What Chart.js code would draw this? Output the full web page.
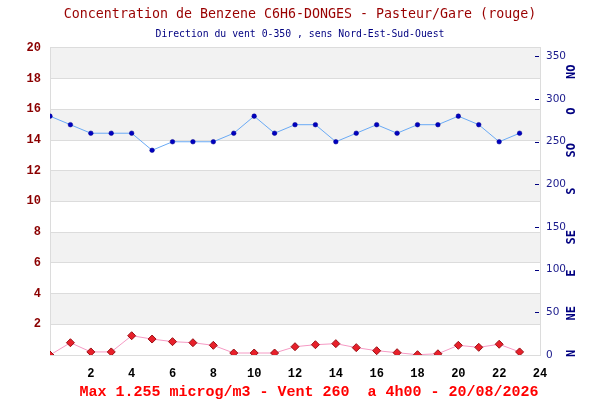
<!DOCTYPE html>
<html>
<head>
<meta charset="utf-8">
<script src="https://cdn.jsdelivr.net/npm/chart.js@4/dist/chart.umd.min.js"></script>
<style>
  html, body { margin: 0; padding: 0; background: #fff; }
  #box { width: 600px; height: 400px; }
</style>
</head>
<body>
<div id="box"><canvas id="chart"></canvas></div>
<script>
const hours = [0, 1, 2, 3, 4, 5, 6, 7, 8, 9, 10, 11, 12, 13, 14, 15, 16, 17, 18, 19, 20, 21, 22, 23];
// benzene, microg/m3
const benzene = [0.0, 0.8, 0.2, 0.2, 1.255, 1.04, 0.87, 0.8, 0.63, 0.13, 0.13, 0.13, 0.54, 0.67, 0.74, 0.48, 0.28, 0.15, 0.02, 0.08, 0.63, 0.5, 0.7, 0.2];
// wind direction, degrees
const wind = [280, 270, 260, 260, 260, 240, 250, 250, 250, 260, 280, 260, 270, 270, 250, 260, 270, 260, 270, 270, 280, 270, 250, 260];
const windTicks = [0, 50, 100, 150, 200, 250, 300, 350];
const dirLabels = ["N", "NE", "E", "SE", "S", "SO", "O", "NO"];
const dirAt = [2, 49, 96, 138, 192, 240, 286, 332];
const bandsFrom = [2, 6, 10, 14, 18];

const titleText = "Concentration de Benzene C6H6-DONGES - Pasteur/Gare (rouge)";
const subText = "Direction du vent 0-350 , sens Nord-Est-Sud-Ouest";
const footText = "Max 1.255 microg/m3 - Vent 260  a 4h00 - 20/08/2026";

const mono = "'Liberation Mono', 'DejaVu Sans Mono', monospace";
const dvMono = "'DejaVu Sans Mono', monospace";

const toPoints = (vals) => hours.map((h, i) => ({ x: h, y: vals[i] }));

// grey bands behind the grid
const bands = {
  id: "bands",
  beforeDraw: (chart) => {
    const { ctx, chartArea, scales } = chart;
    ctx.save();
    ctx.fillStyle = "#f2f2f2";
    bandsFrom.forEach((b) => {
      const y1 = scales.y.getPixelForValue(b + 2);
      const y2 = scales.y.getPixelForValue(b);
      ctx.fillRect(chartArea.left, y1, chartArea.right - chartArea.left, y2 - y1);
    });
    ctx.restore();
  },
};

// wind rose letters, small inner ticks on the right axis, red footer line
const extras = {
  id: "extras",
  afterDraw: (chart) => {
    const { ctx, chartArea, scales } = chart;
    ctx.save();
    ctx.strokeStyle = "#000080";
    ctx.lineWidth = 1;
    windTicks.forEach((v) => {
      if (v === 0) return;
      const y = Math.round(scales.y1.getPixelForValue(v)) + 0.5;
      ctx.beginPath();
      ctx.moveTo(chartArea.right - 5, y);
      ctx.lineTo(chartArea.right - 1, y);
      ctx.stroke();
    });
    ctx.fillStyle = "#000080";
    ctx.font = "bold 12px 'DejaVu Sans Mono', monospace";
    ctx.textAlign = "center";
    ctx.textBaseline = "middle";
    dirLabels.forEach((lab, i) => {
      ctx.save();
      ctx.translate(572, scales.y1.getPixelForValue(dirAt[i]));
      ctx.rotate(-Math.PI / 2);
      ctx.fillText(lab, 0, 0);
      ctx.restore();
    });
    ctx.fillStyle = "#ff0000";
    ctx.font = "bold 15px " + mono;
    ctx.fillText(footText, 309, 392);
    ctx.restore();
  },
};

const myChart = new Chart(document.querySelector("#chart"), {
  type: "line",
  data: {
    datasets: [
      {
        label: "Benzene",
        data: toPoints(benzene),
        yAxisID: "y",
        borderColor: "#f59ac4",
        borderWidth: 1,
        pointStyle: "rectRot",
        pointRadius: 4,
        pointBackgroundColor: "#e8202a",
        pointBorderColor: "#9a0f14",
        pointBorderWidth: 1,
        tension: 0,
      },
      {
        label: "Vent",
        data: toPoints(wind),
        yAxisID: "y1",
        borderColor: "#6aaaf5",
        borderWidth: 1,
        pointRadius: 2.3,
        pointBackgroundColor: "#0000c0",
        pointBorderColor: "#00008a",
        pointBorderWidth: 0.5,
        tension: 0,
      },
    ],
  },
  options: {
    responsive: true,
    maintainAspectRatio: false,
    animation: false,
    layout: { padding: 0 },
    plugins: {
      legend: { display: false },
      tooltip: { enabled: false },
      title: {
        display: true,
        text: titleText,
        color: "#990000",
        font: { family: dvMono, size: 13.3, weight: "normal", lineHeight: 1.2 },
        padding: { top: 6.5, bottom: 6.5 },
      },
      subtitle: {
        display: true,
        text: subText,
        color: "#000080",
        font: { family: dvMono, size: 9.8, weight: "normal", lineHeight: 1.2 },
        padding: { top: 0, bottom: 7.2 },
      },
    },
    scales: {
      x: {
        type: "linear",
        min: 0,
        max: 24,
        grid: { display: false, drawTicks: false },
        border: { color: "#dcdcdc" },
        ticks: {
          stepSize: 2,
          color: "#000",
          font: { family: mono, size: 12, weight: "bold" },
          padding: 12,
          maxRotation: 0,
          callback: (v) => (v === 0 ? "" : v),
        },
        afterFit: (scale) => { scale.height = 45; },
      },
      y: {
        position: "left",
        min: 0,
        max: 20,
        grid: { color: "#dcdcdc", drawTicks: false },
        border: { color: "#dcdcdc" },
        ticks: {
          stepSize: 2,
          color: "#8b0000",
          font: { family: mono, size: 12, weight: "bold" },
          padding: 9,
          callback: (v) => (v === 0 ? "" : v),
        },
        afterFit: (scale) => { scale.width = 50; },
      },
      y1: {
        position: "right",
        min: 0,
        max: 360,
        grid: { drawOnChartArea: false, drawTicks: false },
        border: { color: "#dcdcdc" },
        ticks: {
          color: "#1a1a8c",
          font: { family: "'DejaVu Sans', sans-serif", size: 10.5 },
          padding: 6,
        },
        afterBuildTicks: (scale) => {
          scale.ticks = windTicks.map((v) => ({ value: v }));
        },
        afterFit: (scale) => { scale.width = 60; },
      },
    },
  },
  plugins: [bands, extras],
});
</script>
</body>
</html>
